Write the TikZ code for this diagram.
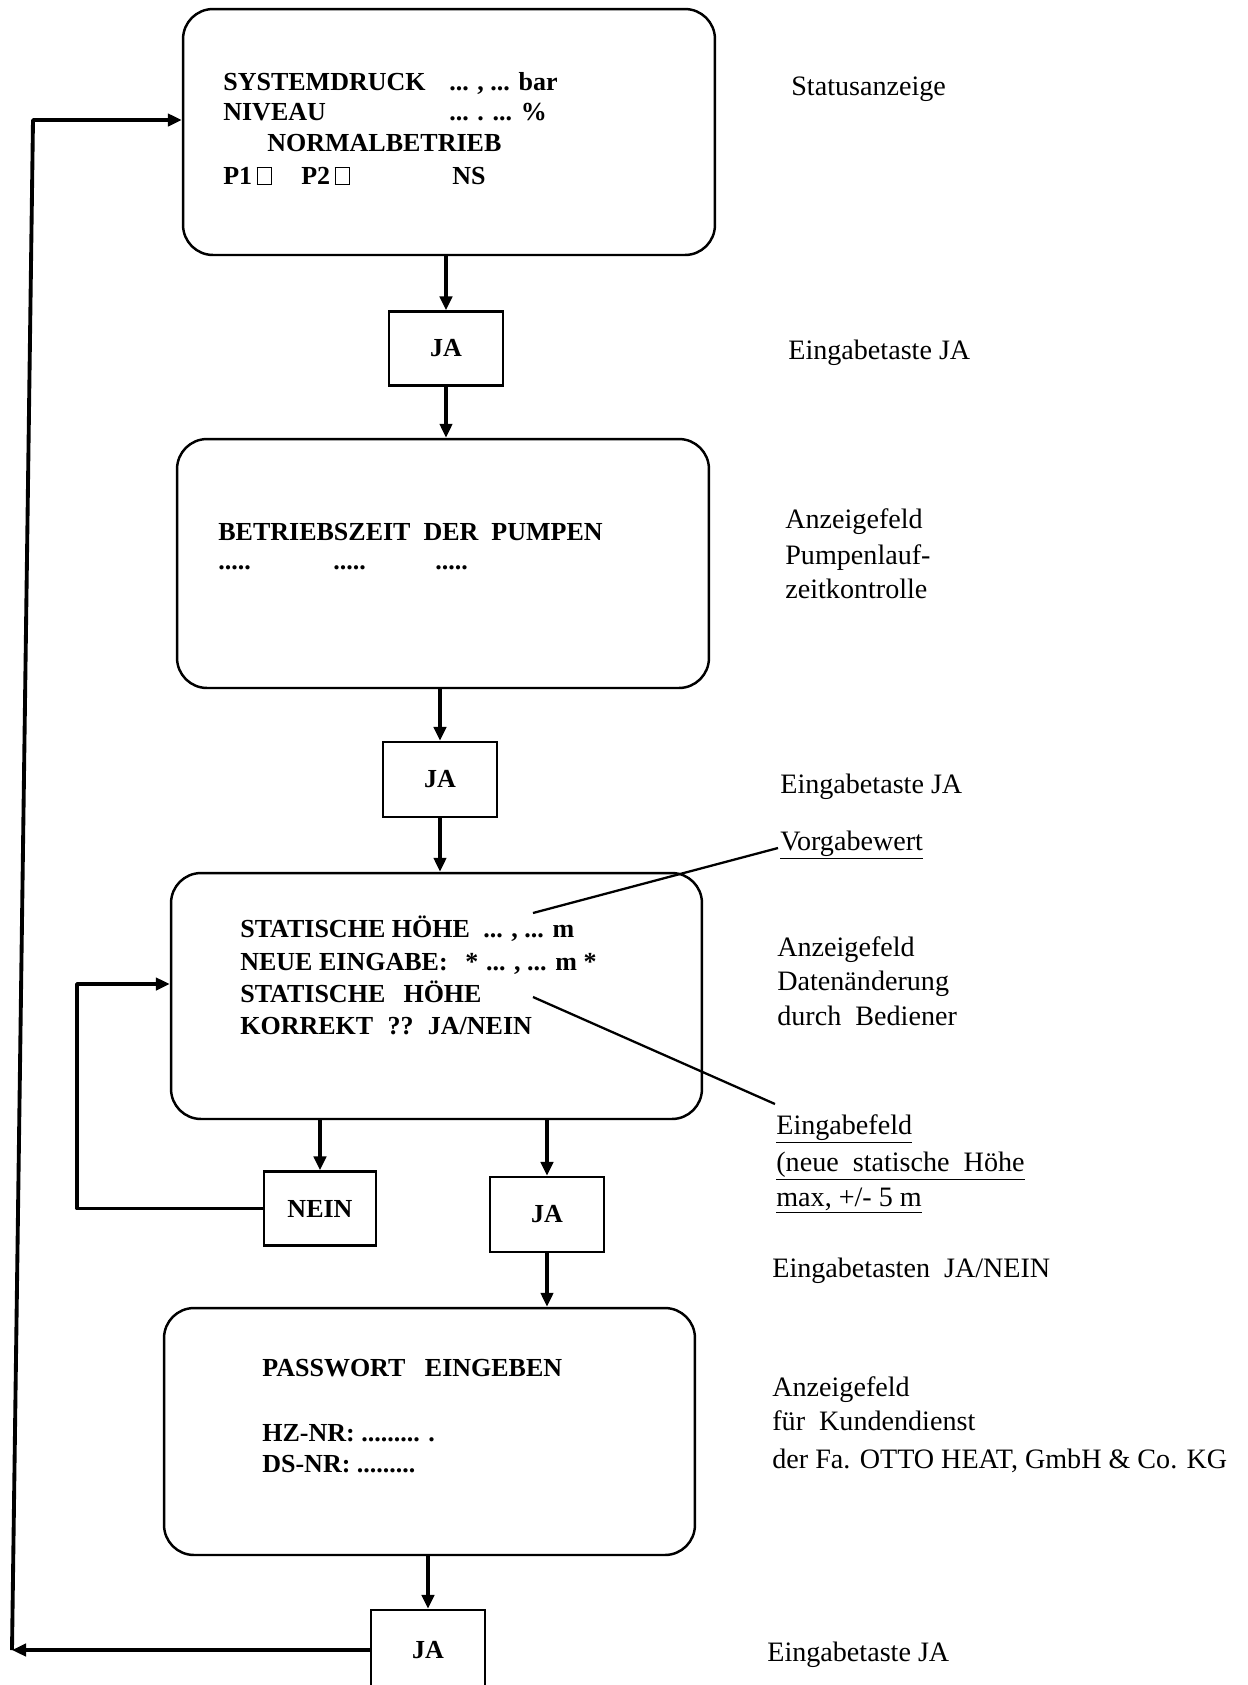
\documentclass[tikz,border=0pt]{standalone}
\usepackage{fontspec}
\setmainfont{Liberation Serif}
\usetikzlibrary{arrows.meta}
\newcommand{\pumpsq}{{\setlength{\fboxsep}{0pt}\setlength{\fboxrule}{0.7pt}\fbox{\rule{0pt}{0.62em}\rule{0.5em}{0pt}}}}
\begin{document}
\begin{tikzpicture}[x=0.02cm,y=-0.02cm,
  screen/.style={draw, line width=1.4pt, rounded corners=0.6cm, minimum width=10.64cm, minimum height=4.92cm, inner sep=0pt},
  keybox/.style={draw, line width=1.3pt, minimum width=2.28cm, minimum height=1.48cm, inner sep=0pt, font=\fontsize{14.8}{17}\selectfont\bfseries},
  bt/.style={anchor=base west, inner sep=0pt, font=\fontsize{14.8}{17}\selectfont\bfseries},
  lbl/.style={anchor=base west, inner sep=0pt, font=\fontsize{16}{19}\selectfont},
  flow/.style={line width=2.2pt, line join=round, -{Triangle[length=8pt,width=7pt]}},
  lead/.style={line width=1.3pt},
]
\useasboundingbox (0,0) rectangle (1248,1685);
\fill[white] (0,0) rectangle (1248,1685);
\clip (0,0) rectangle (1248,1685);

% screens
\node[screen] (s1) at (449,132) {};
\node[screen, minimum height=4.98cm] (s2) at (443,563.5) {};
\node[screen, minimum width=10.62cm] (s3) at (436.5,996) {};
\node[screen, minimum width=10.62cm, minimum height=4.94cm] (s4) at (429.5,1431.5) {};

% keys
\node[keybox] (k1) at (446,348.5) {JA};
\node[keybox, minimum height=1.5cm] (k2) at (440,779.5) {JA};
\node[keybox, minimum width=2.24cm] (kn) at (320,1208.5) {NEIN};
\node[keybox, minimum height=1.5cm] (k3) at (547,1214.5) {JA};
\node[keybox, minimum height=1.6cm] (k4) at (428,1650) {JA};

% screen 1 text
\node[bt] (t1a) at (223,90) {\makebox[4.52cm][l]{SYSTEMDRUCK}... , ... bar};
\node[bt] (t1b) at (223,120) {\makebox[4.52cm][l]{NIVEAU}... . ... \%};
\node[bt] (t1c) at (267,151) {NORMALBETRIEB};
\node[bt] (t1d) at (223,184) {\makebox[1.56cm][l]{P1\,\pumpsq}\makebox[3.02cm][l]{P2\,\pumpsq}NS};

% screen 2 text
\node[bt] (t2a) at (218,540) {BETRIEBSZEIT\ \ DER\ \ PUMPEN};
\node[bt] (t2b) at (218,569) {.....};
\node[bt] (t2c) at (333,569) {.....};
\node[bt] (t2d) at (435,569) {.....};

% screen 3 text
\node[bt] (t3a) at (240,937) {\makebox[4.86cm][l]{STATISCHE HÖHE}... , ... m};
\node[bt] (t3b) at (240,970) {\makebox[4.5cm][l]{NEUE EINGABE:}*\hspace{0.3em}... , ... m *};
\node[bt] (t3c) at (240,1002) {STATISCHE\hspace{0.7em}HÖHE};
\node[bt] (t3d) at (240,1034) {KORREKT\hspace{0.55em}??\hspace{0.55em}JA/NEIN};

% screen 4 text
\node[bt] (t4a) at (262,1376) {PASSWORT\hspace{0.75em}EINGEBEN};
\node[bt] (t4b) at (262,1441) {HZ-NR: ......... .};
\node[bt] (t4c) at (262,1472) {DS-NR: .........};

% right-hand labels
\node[lbl] (l1) at (791,95) {Statusanzeige};
\node[lbl] (l2) at (788,359) {Eingabetaste JA};
\node[lbl] (l3a) at (785,528) {Anzeigefeld};
\node[lbl] (l3b) at (785,564) {Pumpenlauf-};
\node[lbl] (l3c) at (785,598) {zeitkontrolle};
\node[lbl] (l4) at (780,793) {Eingabetaste JA};
\node[lbl] (l5) at (780,850) {\underline{Vorgabewert}};
\node[lbl] (l6a) at (777,956) {Anzeigefeld};
\node[lbl] (l6b) at (777,990) {Datenänderung};
\node[lbl] (l6c) at (777,1025) {durch\ \ Bediener};
\node[lbl] (l7a) at (776,1134) {\underline{Eingabefeld}};
\node[lbl] (l7b) at (776,1171) {\underline{(neue\ \ statische\ \ Höhe}};
\node[lbl] (l7c) at (776,1206) {\underline{max, +/- 5 m}};
\node[lbl] (l8) at (772,1277) {Eingabetasten\ \ JA/NEIN};
\node[lbl] (l9a) at (772,1396) {Anzeigefeld};
\node[lbl] (l9b) at (772,1430) {für\ \ Kundendienst};
\node[lbl] (l9c) at (772,1468) {der Fa. OTTO HEAT, GmbH \& Co. KG};
\node[lbl] (l10) at (767,1661) {Eingabetaste JA};

% main flow
\draw[flow] (k1.north |- s1.south) -- (k1.north);
\draw[flow] (k1.south) -- (k1.south |- s2.north);
\draw[flow] (s2.south -| k2) -- (k2.north);
\draw[flow] (k2.south) -- (k2.south |- s3.north);
\draw[flow] (s3.south -| kn) -- (kn.north);
\draw[flow] (s3.south -| k3) -- (k3.north);
\draw[flow] (k3.south) -- (k3.south |- s4.north);
\draw[flow] (s4.south -| k4) -- (k4.north);

% NEIN loop
\coordinate (n2) at (77,984);
\draw[flow] (kn.west) -| (n2) -- (n2 -| s3.west);

% return loop
\coordinate (r1) at (12,1650);
\coordinate (r2) at (33,120);
\draw[flow] (k4.west) -- (r1);
\draw[flow] (r1) -- (r2) -- (r2 -| s1.west);

% leader lines
\coordinate (v0) at (533,913);
\coordinate (v1) at (778,848);
\draw[lead] (v0) -- (v1);
\coordinate (e0) at (533,997);
\coordinate (e1) at (775,1104);
\draw[lead] (e0) -- (e1);
\end{tikzpicture}
\end{document}
